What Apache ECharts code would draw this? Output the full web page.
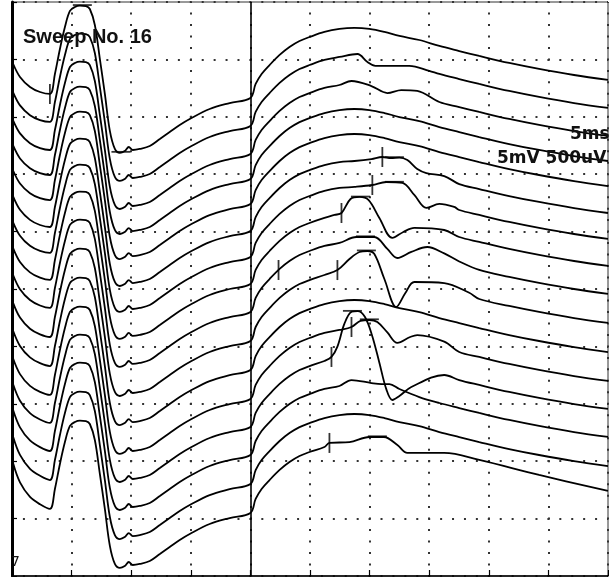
<!DOCTYPE html>
<html><head><meta charset="utf-8">
<script src="https://cdn.jsdelivr.net/npm/echarts@6/dist/echarts.min.js"></script>
<style>html,body{margin:0;padding:0;background:#fff}#c{width:611px;height:577px}</style>
</head><body><div id="c"></div>
<script>
// ---- data ----
// level of each sweep where the two timebases meet (display units: 5 mV per division, from bottom)
const sweepOffsets = [41.64,39.20,36.76,34.58,32.40,30.05,27.79,25.44,23.00,20.47,17.94,15.42,12.98,10.54,8.01,5.49];
// stimulus artefact deflection at the start of each sweep (mV)
const sweepStart = [2.96,2.9,2.9,2.9,2.9,3.0,3.0,3.1,3.2,3.3,3.4,3.5,3.7,3.9,4.1,4.3];
// left timebase (0-20 ms, 5 mV/div): M response, common to all sweeps
const leftTimes = [0.1,0.67,1.51,2.35,3.18,3.60,4.02,4.44,4.86,5.28,5.70,6.20,6.53,6.95,7.37,7.79,8.21,8.63,9.05,9.46,9.80,10.13,10.72,11.56,12.40,13.23,14.07,14.91,16.58,18.26,20.0];
const leftMV    = [2.96,1.83,0.96,0.52,0.35,2.09,4.27,6.18,7.58,7.93,8.05,8.01,7.75,6.36,3.40,0.35,-2.87,-4.44,-4.79,-4.62,-4.27,-4.53,-4.44,-4.18,-3.57,-2.96,-2.35,-1.83,-0.96,-0.44,0];
// right timebase (20-50 ms, 500 uV/div): background course of every sweep
const rightTimes = [20,20.44,20.94,21.61,22.45,23.28,24.12,24.96,26.21,27.47,28.73,29.98,31.24,32.50,34.17,35.85,37.52,39.20,41.71,44.22,47.15,50];
const rightUV    = [0,122,209,287,375,444,496,531,575,601,610,601,575,540,505,453,409,366,305,253,200,157];
// late responses (ms, uV) per sweep
const late2  = [[28.98,627],[29.82,557],[30.49,523],[33.33,523],[35.0,480]];
const late3  = [[28.48,636],[30.15,592],[31.49,531],[32.66,557],[34.0,549]];
const late6  = [[30.15,627],[31.07,645],[31.8,636],[32.5,640],[33.17,618],[34.0,540],[34.76,505],[36.26,479]];
const late7  = [[30.23,627],[31.4,653],[32.75,645],[33.75,540],[34.76,427],[35.85,462],[37.1,436]];
const late8  = [[27.05,601],[27.64,618],[28.4,740],[29.15,758],[29.9,732],[30.82,575],[31.91,401],[32.83,453],[33.75,488],[36.26,470]];
const late9  = [[28.89,653],[30.4,653],[31.49,549],[32.33,470],[33.5,523],[34.84,566],[36.26,510],[37.52,440]];
const late10 = [[27.3,618],[28.31,714],[29.15,775],[29.82,784],[30.4,758],[31.24,540],[32.24,296],[33.0,418],[33.75,514],[36.26,505],[38.36,420]];
const late12 = [[28.48,627],[29.23,680],[29.98,688],[30.65,670],[31.49,580],[32.33,488],[33.4,540],[34.0,557],[36.26,500]];
const late13 = [[26.8,610],[27.3,700],[27.89,900],[28.5,1005],[29.0,1010],[29.6,960],[30.2,800],[30.82,560],[31.4,330],[31.91,235],[32.5,270],[33.5,348],[36.26,453]];
const late14 = [[28.48,653],[30.15,627],[31.0,618],[31.66,618],[32.5,575]];
const late16 = [[26.63,610],[28.31,618],[29.98,662],[31.2,662],[32.33,592],[33.17,523],[36.26,523],[39.2,462],[44.22,331],[50,192]];
const lateBySweep = [null,late2,late3,null,null,late6,late7,late8,late9,late10,null,late12,late13,late14,null,late16];
// cursor marks: sweep number, time (ms), kind (v = latency tick, h = peak bar)
const markSweep = [1,1,1,6,6,7,7,8,8,9,9,10,10,12,12,13,13,16,16];
const markTime  = [3.18,5.9,9.14,31.07,32.08,30.23,32.08,27.64,29.23,22.36,29.65,27.30,29.73,28.48,29.98,26.80,28.56,26.63,30.65];
const markKind  = ['v','h','h','v','h','v','h','v','h','v','h','v','h','v','h','v','h','v','h'];

// ---- build ----
function rightPoints(k){
  let pts = rightTimes.map((t,j)=>[t,rightUV[j]]);
  const f = lateBySweep[k];
  if (f){
    const a=f[0][0]-0.35, b=f[f.length-1][0]+0.35;
    pts = pts.filter(p=>p[0]<a||p[0]>b).concat(f).sort((p,q)=>p[0]-q[0]);
  }
  return pts;
}
function sweepData(k){
  const off = sweepOffsets[k];
  const left = leftTimes.map((t,j)=>{let v=leftMV[j]; if(t<3) v=v*sweepStart[k]/leftMV[0]; return [t, off+v];});
  const right = rightPoints(k).filter(p=>p[0]>20).map(p=>[p[0], off+p[1]/100]);
  return left.concat(right);
}
function interp(d,t){
  for(let i=1;i<d.length;i++){ if(d[i][0]>=t){const a=d[i-1],b=d[i]; return a[1]+(b[1]-a[1])*(t-a[0])/(b[0]-a[0]);} }
  return d[d.length-1][1];
}
const allData = sweepOffsets.map((o,k)=>sweepData(k));
const series = allData.map((d,k)=>({
  type:'line', data:d, smooth:0.35, showSymbol:false, symbol:'none', silent:true, animation:false,
  lineStyle:{color:'#000', width:1.8}, z:3,
  markLine: k===0 ? {silent:true, symbol:'none', animation:false, label:{show:false},
    lineStyle:{color:'#000', width:1.6, type:'solid'}, data:[{xAxis:20}]} : undefined
}));
series.push({
  type:'scatter', symbol:'rect', silent:true, animation:false, z:4,
  itemStyle:{color:'#000'},
  data: markSweep.map((s,i)=>({value:[markTime[i], interp(allData[s-1], markTime[i]) + (markKind[i]==='h' ? 0.06 : 0)],
        symbolSize: markKind[i]==='v' ? [1.8,20] : [19,1.8]}))
});

const chart = echarts.init(document.getElementById('c'), null, {renderer:'canvas'});
chart.setOption({
  animation:false,
  backgroundColor:'#fff',
  grid:{left:12, right:3, top:2, bottom:1, show:true, borderColor:'#333', borderWidth:1},
  xAxis:{type:'value', min:0, max:50, interval:5,
    axisLine:{show:true, onZero:false, lineStyle:{color:'#000', width:1.5}},
    axisTick:{show:true, inside:true, length:6, lineStyle:{color:'#000', width:1.2}},
    axisLabel:{show:false},
    splitLine:{show:true, lineStyle:{color:'#333', width:2, type:[2,9.48], dashOffset:1}}},
  yAxis:{type:'value', min:0, max:50, interval:5,
    axisLine:{show:true, onZero:false, lineStyle:{color:'#000', width:3}},
    axisTick:{show:true, inside:true, length:5, lineStyle:{color:'#000', width:1.2}},
    axisLabel:{show:false},
    splitLine:{show:true, lineStyle:{color:'#333', width:2, type:[2,9.92], dashOffset:1}}},
  title:{text:'Sweep No. 16', left:18, top:22,
    textStyle:{fontFamily:'Liberation Sans', fontWeight:'bold', fontSize:20, color:'#111'}},
  graphic:[
    {type:'text', x:570, y:143, z:10, style:{text:'5ms', fill:'#111', textVerticalAlign:'bottom', font:'bold 17px "DejaVu Sans"'}},
    {type:'text', x:497, y:167, z:10, style:{text:'5mV 500uV', fill:'#111', textVerticalAlign:'bottom', font:'bold 17px "DejaVu Sans"'}},
    {type:'text', x:11, y:569, z:10, style:{text:'7', fill:'#111', textVerticalAlign:'bottom', font:'14px "DejaVu Sans"'}},
    {type:'rect', z:20, shape:{x:609, y:0, width:3, height:577}, style:{fill:'#fff'}}
  ],
  series: series
});
</script></body></html>
